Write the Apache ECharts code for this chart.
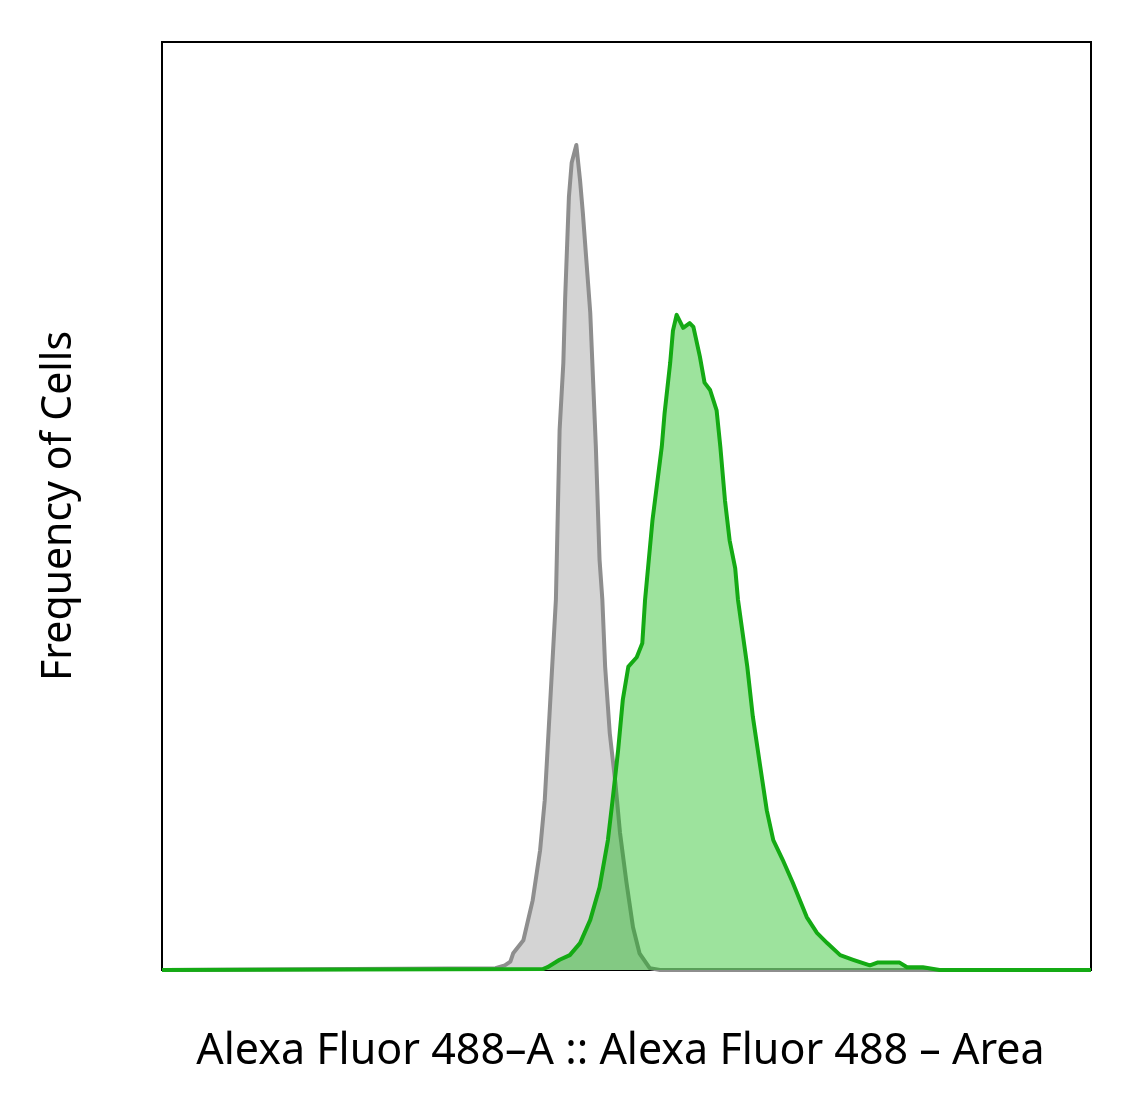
<!DOCTYPE html>
<html>
<head>
<meta charset="utf-8">
<script src="https://cdn.jsdelivr.net/npm/echarts@6/dist/echarts.min.js"></script>
<style>
  html, body { margin: 0; padding: 0; background: #fff; }
  #chart { width: 1133px; height: 1115px; }
</style>
</head>
<body>
<div id="chart"></div>
<script>
// intensity channel (0..1000) for each series
const isotypeX = [0, 359, 369, 375, 378, 389, 399, 407, 412, 416, 420, 424, 428, 432, 434, 436, 438, 441, 446,
  450, 453, 457, 461, 464, 467, 471, 474, 477, 482, 488, 493, 500, 507, 514, 525, 536, 1000];
const isotypeY = [0, 0.2, 0.5, 0.9, 1.8, 3.2, 7.5, 12.9, 18.3, 25.5, 32.7, 39.9, 58.2, 65.4, 72.5, 77.9, 83.3, 87.0, 88.9,
  85.1, 81.6, 76.2, 70.8, 63.6, 56.4, 44.2, 39.9, 32.7, 25.5, 20.2, 14.8, 9.4, 4.6, 1.8, 0.2, 0, 0];

const stainedX = [0, 410, 415, 428, 439, 450, 461, 471, 480, 485, 491, 496, 502, 511, 517, 520, 528, 538, 541, 547,
  550, 554, 561, 568, 572, 579, 584, 590, 597, 601, 606, 611, 617, 620, 630, 636, 644, 651, 658, 668, 679, 694,
  705, 716, 730, 744, 762, 770, 794, 802, 819, 837, 1000];
const stainedY = [0, 0.1, 0.3, 1.1, 1.6, 2.9, 5.4, 8.9, 14.0, 18.3, 23.7, 29.1, 32.7, 33.7, 35.2, 39.9, 48.5, 56.4, 60.0, 65.4,
  68.9, 70.6, 69.2, 69.7, 69.3, 66.1, 63.3, 62.5, 60.3, 56.4, 50.6, 46.3, 43.3, 39.9, 32.7, 27.3, 21.9, 17.2, 14.0, 11.9, 9.4, 5.7,
  4.0, 2.9, 1.6, 1.1, 0.5, 0.8, 0.8, 0.3, 0.3, 0, 0];

const pairs = (xs, ys) => xs.map((x, i) => [x, ys[i]]);

const chart = echarts.init(document.getElementById('chart'));

const option = {
  animation: false,
  grid: {
    left: 162,
    right: 42,
    top: 42,
    bottom: 145,
    show: true,
    borderColor: '#000',
    borderWidth: 2,
    backgroundColor: 'transparent'
  },
  xAxis: {
    type: 'value',
    min: 0,
    max: 1000,
    name: 'Alexa Fluor 488–A :: Alexa Fluor 488 – Area',
    nameLocation: 'middle',
    nameGap: 60,
    nameTextStyle: { fontFamily: 'Noto Sans', fontSize: 43, color: '#000', padding: [0, 12, 0, 0] },
    axisLine: { show: false },
    axisTick: { show: false },
    axisLabel: { show: false },
    splitLine: { show: false }
  },
  yAxis: {
    type: 'value',
    min: 0,
    max: 100,
    name: 'Frequency of Cells',
    nameLocation: 'middle',
    nameGap: 82,
    nameTextStyle: { fontFamily: 'Noto Sans', fontSize: 41, color: '#000' },
    axisLine: { show: false },
    axisTick: { show: false },
    axisLabel: { show: false },
    splitLine: { show: false }
  },
  series: [
    {
      name: 'Isotype',
      type: 'line',
      data: pairs(isotypeX, isotypeY),
      showSymbol: false,
      lineStyle: { color: '#8e8e8e', width: 4, join: 'round' },
      areaStyle: { color: '#d4d4d4', opacity: 1 },
      z: 2
    },
    {
      name: 'Stained',
      type: 'line',
      data: pairs(stainedX, stainedY),
      showSymbol: false,
      lineStyle: { color: '#14aa14', width: 4, join: 'round' },
      areaStyle: { color: 'rgba(10,185,10,0.4)', opacity: 1 },
      z: 3
    }
  ]
};

chart.setOption(option);
</script>
</body>
</html>
